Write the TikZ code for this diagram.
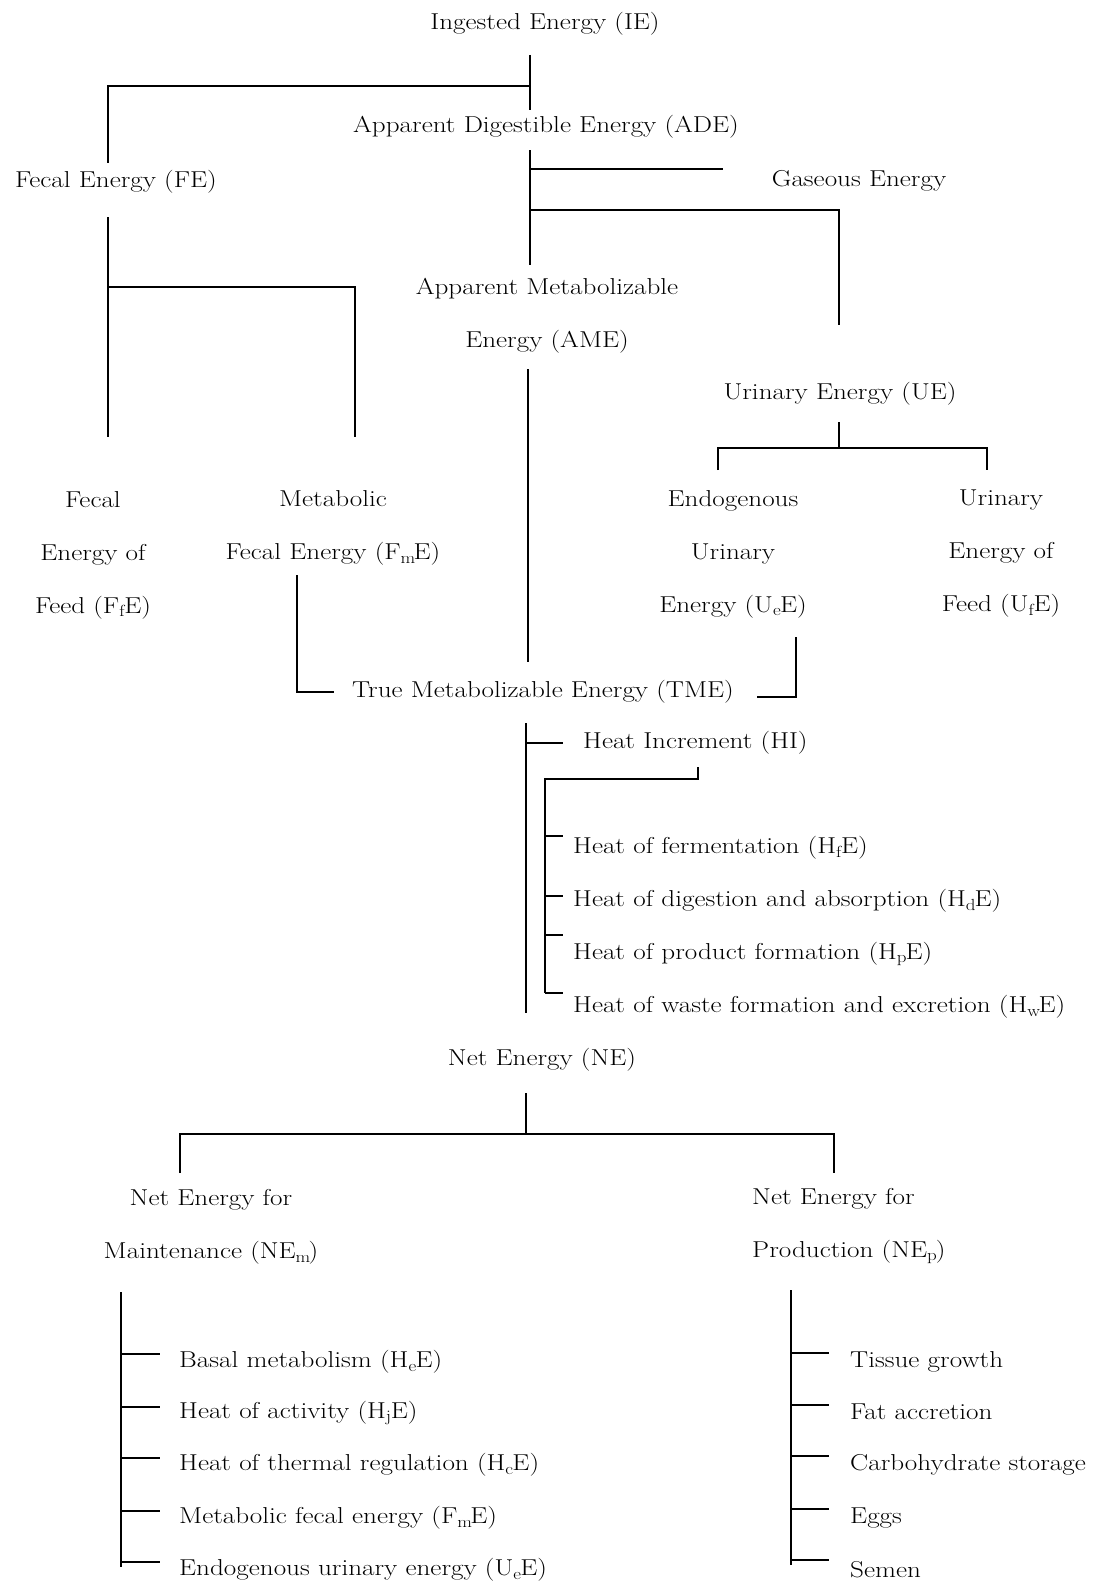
\documentclass[tikz,border=0pt]{standalone}
\usepackage{fontspec}
\setmainfont{Latin Modern Roman}[FakeStretch=1.18]
\newcommand\sbx[1]{$_{\mathrm{#1}}$}
\newcommand\lblfont{\fontsize{23}{53}\selectfont}
\tikzset{
  lbl/.style={inner sep=0pt, font=\lblfont, align=center},
  lbll/.style={inner sep=0pt, font=\lblfont, align=left, anchor=west},
  ln/.style={line width=1.6pt}
}
\begin{document}
\begin{tikzpicture}[x=1pt,y=-1pt]
\useasboundingbox[fill=white] (0,0) rectangle (1092,1587);
% ---- nodes
\node[lbl] (IE) at (545,24) {Ingested Energy (IE)};
\node[lbl] (ADE) at (546,127) {Apparent Digestible Energy (ADE)};
\node[lbl] (FE) at (116,182) {Fecal Energy (FE)};
\node[lbl] (GE) at (859,181) {Gaseous Energy};
\node[lbl] (AME) at (547,316) {Apparent Metabolizable\\Energy (AME)};
\node[lbl] (UE) at (840,394) {Urinary Energy (UE)};
\node[lbl] (FfE) at (93,555) {Fecal\\Energy of\\Feed (F\sbx{f}E)};
\node[lbl] (FmE) at (333,528) {Metabolic\\Fecal Energy (F\sbx{m}E)};
\node[lbl] (UeE) at (733,554) {Endogenous\\Urinary\\Energy (U\sbx{e}E)};
\node[lbl] (UfE) at (1001,554) {Urinary\\Energy of\\Feed (U\sbx{f}E)};
\node[lbl] (TME) at (543,692) {True Metabolizable Energy (TME)};
\node[lbll] (HI) at (583,743) {Heat Increment (HI)};
\node[lbll] (H1) at (573,848) {Heat of fermentation (H\sbx{f}E)};
\node[lbll] (H2) at (573,901) {Heat of digestion and absorption (H\sbx{d}E)};
\node[lbll] (H3) at (573,954) {Heat of product formation (H\sbx{p}E)};
\node[lbll] (H4) at (573,1007) {Heat of waste formation and excretion (H\sbx{w}E)};
\node[lbl] (NE) at (542,1060) {Net Energy (NE)};
\node[lbl] (NEm) at (211,1227) {Net Energy for\\Maintenance (NE\sbx{m})};
\node[lbll] (NEp) at (752,1226) {Net Energy for\\Production (NE\sbx{p})};
\node[lbll] (M1) at (179,1362) {Basal metabolism (H\sbx{e}E)};
\node[lbll] (M2) at (179,1413) {Heat of activity (H\sbx{j}E)};
\node[lbll] (M3) at (179,1465) {Heat of thermal regulation (H\sbx{c}E)};
\node[lbll] (M4) at (179,1518) {Metabolic fecal energy (F\sbx{m}E)};
\node[lbll] (M5) at (179,1570) {Endogenous urinary energy (U\sbx{e}E)};
\node[lbll] (P1) at (850,1362) {Tissue growth};
\node[lbll] (P2) at (850,1412) {Fat accretion};
\node[lbll] (P3) at (850,1465) {Carbohydrate storage};
\node[lbll] (P4) at (850,1518) {Eggs};
\node[lbll] (P5) at (850,1570) {Semen};
% ---- coordinates
\coordinate (ie-a) at (530,55);
\coordinate (ie-b) at (530,110);
\coordinate (ie-j) at (530,86);
\coordinate (fe-c) at (108,86);
\coordinate (fe-t) at (108,163);
\coordinate (ade-a) at (530,150);
\coordinate (ade-b) at (530,265);
\coordinate (ge-j) at (530,169);
\coordinate (ge-e) at (723,169);
\coordinate (ue-j) at (530,210);
\coordinate (ue-c) at (839,210);
\coordinate (ue-t) at (839,325);
\coordinate (fe-a) at (108,217);
\coordinate (fe-b) at (108,437);
\coordinate (fm-j) at (108,287);
\coordinate (fm-c) at (355,287);
\coordinate (fm-b) at (355,437);
\coordinate (ame-a) at (528,369);
\coordinate (ame-b) at (528,662);
\coordinate (ue-a) at (839,422);
\coordinate (ue-b) at (839,448);
\coordinate (ue-l) at (718,448);
\coordinate (ue-lb) at (718,470);
\coordinate (ue-r) at (987,448);
\coordinate (ue-rb) at (987,470);
\coordinate (fmt-a) at (297,575);
\coordinate (fmt-c) at (297,692);
\coordinate (fmt-e) at (334,692);
\coordinate (uet-a) at (796,637);
\coordinate (uet-c) at (796,697);
\coordinate (uet-e) at (757,697);
\coordinate (tme-a) at (526,723);
\coordinate (tme-b) at (526,1013);
\coordinate (hi-j) at (526,743);
\coordinate (hi-e) at (563,743);
\coordinate (hb-a) at (698,767);
\coordinate (hb-c) at (698,779);
\coordinate (hb-l) at (545,779);
\coordinate (hb-b) at (545,993);
\coordinate (ne-a) at (526,1093);
\coordinate (ne-b) at (526,1134);
\coordinate (ne-l) at (180,1134);
\coordinate (ne-lb) at (180,1173);
\coordinate (ne-r) at (834,1134);
\coordinate (ne-rb) at (834,1173);
\coordinate (m-a) at (121,1292);
\coordinate (m-b) at (121,1567);
\coordinate (p-a) at (791,1290);
\coordinate (p-b) at (791,1565);
% ---- connectors
\draw[ln] (ie-a) -- (ie-b);
\draw[ln] (ie-j) -- (fe-c) -- (fe-t);
\draw[ln] (ade-a) -- (ade-b);
\draw[ln] (ge-j) -- (ge-e);
\draw[ln] (ue-j) -- (ue-c) -- (ue-t);
\draw[ln] (fe-a) -- (fe-b);
\draw[ln] (fm-j) -- (fm-c) -- (fm-b);
\draw[ln] (ame-a) -- (ame-b);
\draw[ln] (ue-a) -- (ue-b);
\draw[ln] (ue-lb) -- (ue-l) -- (ue-r) -- (ue-rb);
\draw[ln] (fmt-a) -- (fmt-c) -- (fmt-e);
\draw[ln] (uet-a) -- (uet-c) -- (uet-e);
\draw[ln] (tme-a) -- (tme-b);
\draw[ln] (hi-j) -- (hi-e);
\draw[ln] (hb-a) -- (hb-c) -- (hb-l) -- (hb-b);
\foreach \yy in {836,896,935,993} \draw[ln] (545,\yy) -- (563,\yy);
\draw[ln] (ne-a) -- (ne-b);
\draw[ln] (ne-lb) -- (ne-l) -- (ne-r) -- (ne-rb);
\draw[ln] (m-a) -- (m-b);
\foreach \yy in {1354,1407,1458,1511,1562} \draw[ln] (121,\yy) -- (160,\yy);
\draw[ln] (p-a) -- (p-b);
\foreach \yy in {1353,1405,1456,1509,1560} \draw[ln] (791,\yy) -- (829,\yy);
\end{tikzpicture}
\end{document}
